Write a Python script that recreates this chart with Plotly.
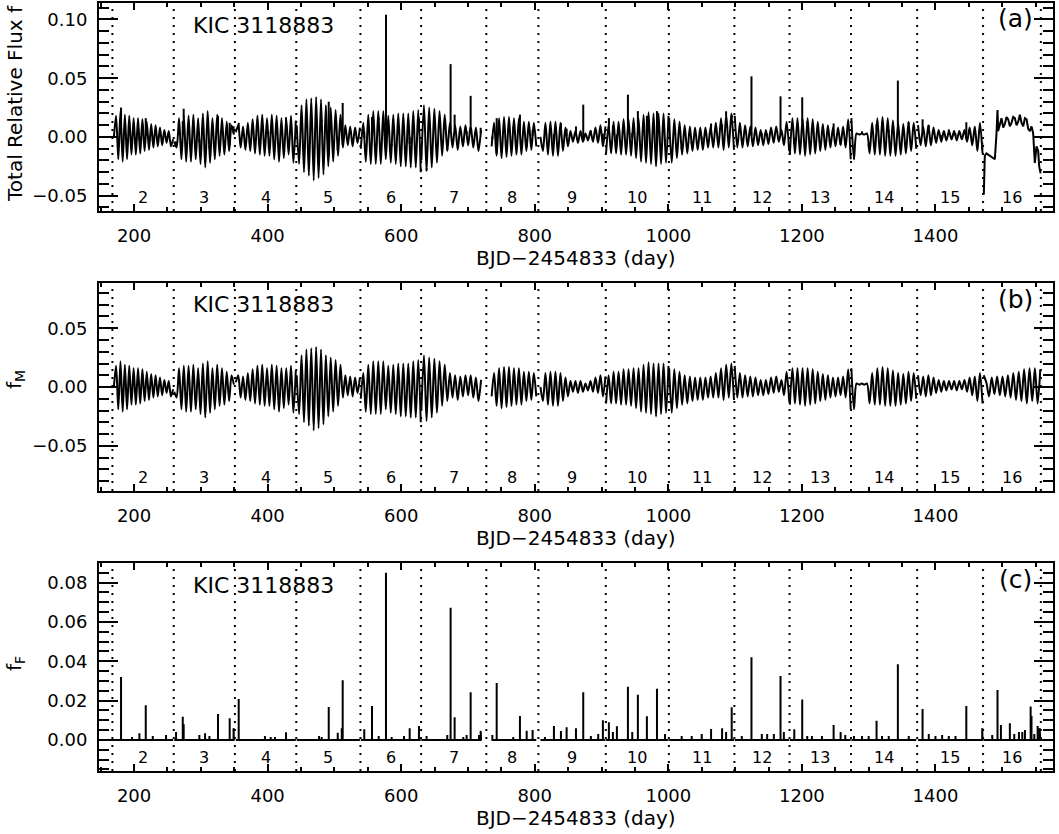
import numpy as np
import plotly.graph_objects as go

# ---------------- data (BJD-2454833, days) ----------------
quarter_names = [str(q) for q in range(2, 17)]
q_start = [169.8, 260.2, 352.4, 443.5, 539.5, 630.2, 735.4, 808.5, 906.8,
           1001.2, 1099.4, 1182.0, 1274.1, 1373.9, 1472.1]
q_end = [258.5, 349.5, 442.2, 538.2, 629.3, 719.6, 802.3, 905.9, 1000.3,
         1098.3, 1181.0, 1273.1, 1371.3, 1470.5, 1557.0]
q_boundary = [167.6, 259.4, 351.0, 442.9, 539.0, 629.8, 727.5, 805.4, 906.4,
              1000.8, 1098.9, 1181.5, 1273.6, 1372.6, 1471.3, 1557.8]

# modulation f_M: successive extrema read per quarter
fm_q2 = [0.000, 0.018, -0.019, 0.022, -0.021, 0.019, -0.019, 0.018, -0.015, 0.016, -0.015, 0.016, -0.014,
         0.015, -0.012, 0.013, -0.011, 0.011, -0.009, 0.010, -0.008, 0.008, -0.007, 0.006, -0.005, 0.005, -0.008, -0.002]
fm_q3 = [-0.004, -0.009, 0.016, -0.019, 0.018, -0.021, 0.018, -0.021, 0.019, -0.019, 0.016, -0.023, 0.020,
         -0.026, 0.022, -0.022, 0.016, -0.019, 0.019, -0.016, 0.016, -0.015, 0.013, -0.012, 0.010, 0.002]
fm_q4 = [0.004, 0.010, -0.009, 0.009, -0.011, 0.012, -0.012, 0.015, -0.014, 0.018, -0.015, 0.019, -0.016,
         0.016, -0.016, 0.019, -0.019, 0.018, -0.021, 0.016, -0.018, 0.016, -0.015, 0.018, -0.022, 0.014]
fm_q5 = [0.010, -0.023, 0.027, -0.030, 0.032, -0.033, 0.033, -0.037, 0.034, -0.035, 0.032, -0.032, 0.027,
         -0.025, 0.025, -0.021, 0.023, -0.016, 0.019, -0.009, 0.010, -0.007, 0.009, -0.008, 0.008, -0.005, 0.008]
fm_q6 = [-0.010, 0.012, -0.021, 0.019, -0.023, 0.022, -0.023, 0.022, -0.023, 0.022, -0.019, 0.018, -0.022,
         0.019, -0.023, 0.020, -0.025, 0.020, -0.025, 0.020, -0.026, 0.022, -0.026, 0.023, -0.030]
fm_q7 = [-0.020, 0.027, -0.029, 0.025, -0.026, 0.024, -0.022, 0.022, -0.016, 0.019, -0.012, 0.012, -0.009,
         0.010, -0.011, 0.009, -0.008, 0.010, -0.007, 0.010, -0.009, 0.008, -0.012, 0.006]
fm_q8 = [-0.008, 0.012, -0.016, 0.016, -0.018, 0.017, -0.017, 0.017, -0.016, 0.016, -0.015, 0.016, -0.015,
         0.013, -0.012, 0.013, -0.011, 0.012, -0.008]
fm_q9 = [0.000, -0.012, 0.012, -0.015, 0.013, -0.016, 0.013, -0.016, 0.012, -0.012, 0.008, -0.008, 0.005,
         -0.004, 0.005, -0.005, 0.005, -0.004, 0.003, -0.003, 0.005, -0.004, 0.008, -0.005, 0.010, -0.008, 0.009]
fm_q10 = [-0.014, 0.010, -0.014, 0.013, -0.014, 0.013, -0.015, 0.015, -0.015, 0.015, -0.016, 0.016, -0.018,
          0.016, -0.021, 0.019, -0.022, 0.021, -0.023, 0.020, -0.025, 0.020, -0.023, 0.020, -0.022, 0.018]
fm_q11 = [0.016, -0.022, 0.015, -0.018, 0.013, -0.015, 0.010, -0.014, 0.009, -0.012, 0.008, -0.011, 0.008,
          -0.011, 0.008, -0.009, 0.009, -0.009, 0.012, -0.009, 0.016, -0.011, 0.019, -0.009, 0.020, -0.011]
fm_q12 = [0.018, -0.009, 0.012, -0.009, 0.010, -0.008, 0.009, -0.008, 0.008, -0.007, 0.006, -0.007, 0.006,
          -0.006, 0.008, -0.005, 0.009, -0.004, 0.006, -0.007, 0.013, -0.012]
fm_q13 = [-0.015, 0.016, -0.014, 0.016, -0.015, 0.016, -0.016, 0.016, -0.015, 0.015, -0.014, 0.013, -0.012,
          0.011, -0.011, 0.010, -0.009, 0.008, -0.008, 0.008, -0.007, 0.009, -0.009, 0.015, -0.019]
fm_q14 = [0.016, -0.019, 0.003, 0.002, 0.003, 0.002, 0.003, -0.014, 0.012, -0.015, 0.016, -0.015, 0.017,
          -0.016, 0.016, -0.016, 0.014, -0.016, 0.012, -0.015, 0.011, -0.014, 0.013, -0.012, 0.012, -0.010]
fm_q15 = [0.010, -0.007, 0.009, -0.008, 0.010, -0.007, 0.008, -0.005, 0.006, -0.004, 0.005, -0.003, 0.005,
          -0.002, 0.005, -0.003, 0.005, -0.002, 0.006, -0.004, 0.008, -0.007, 0.009, -0.012, 0.012, -0.014]
fm_q16 = [0.010, 0.004, -0.008, 0.008, -0.006, 0.009, -0.007, 0.009, -0.008, 0.010, -0.009, 0.012, -0.011,
          0.013, -0.012, 0.015, -0.014, 0.016, -0.012, 0.016, -0.014, 0.015]
fm_quarters = [fm_q2, fm_q3, fm_q4, fm_q5, fm_q6, fm_q7, fm_q8, fm_q9, fm_q10,
               fm_q11, fm_q12, fm_q13, fm_q14, fm_q15, fm_q16]

# flares f_F: day and amplitude
flare_day = [180.5, 197.0, 208.0, 217.5, 228.0, 247.9, 262.9, 272.9, 274.3, 297.8, 306.3, 312.8, 325.7,
             343.2, 349.0, 356.7, 396.0, 404.6, 411.0, 427.5, 477.0, 481.0, 491.5, 505.0, 511.0, 512.4,
             544.7, 556.3, 566.3, 577.2, 585.7, 604.2, 612.7, 626.6, 638.0, 669.0, 674.0, 680.0, 693.0,
             698.0, 704.0, 716.5, 719.0, 736.5, 743.0, 767.8, 777.8, 787.9, 796.8, 815.3, 828.7, 839.2,
             847.7, 861.7, 872.6, 884.0, 895.0, 902.0, 911.0, 917.0, 923.0, 939.5, 946.0, 954.4, 967.9,
             983.0, 995.0, 1020.0, 1035.0, 1050.0, 1064.0, 1080.5, 1086.5, 1094.9, 1110.0, 1124.5, 1140.0,
             1148.0, 1158.0, 1168.0, 1173.0, 1188.6, 1200.5, 1208.0, 1215.0, 1230.0, 1247.5, 1258.0, 1265.0,
             1278.0, 1290.0, 1300.0, 1311.8, 1320.0, 1330.0, 1343.7, 1360.0, 1380.7, 1390.0, 1400.0, 1410.0,
             1420.0, 1430.0, 1446.2, 1470.0, 1485.0, 1492.9, 1498.0, 1511.4, 1518.0, 1525.0, 1530.0, 1534.0,
             1542.5, 1543.8, 1548.0, 1553.0, 1556.0]
flare_amp = [0.032, 0.0015, 0.0034, 0.0177, 0.002, 0.0025, 0.004, 0.0118, 0.008, 0.0025, 0.0034, 0.002, 0.0132,
             0.011, 0.006, 0.0208, 0.002, 0.0015, 0.0015, 0.0039, 0.002, 0.0015, 0.0167, 0.0037, 0.006, 0.0304,
             0.0054, 0.0172, 0.002, 0.085, 0.0015, 0.002, 0.006, 0.0071, 0.002, 0.0025, 0.0673, 0.0115, 0.0015,
             0.0025, 0.0242, 0.0025, 0.0046, 0.0025, 0.029, 0.0015, 0.0122, 0.0047, 0.005, 0.0015, 0.0071, 0.0046,
             0.0064, 0.006, 0.0242, 0.002, 0.003, 0.010, 0.009, 0.004, 0.007, 0.027, 0.004, 0.023, 0.012,
             0.026, 0.003, 0.002, 0.002, 0.003, 0.0055, 0.006, 0.004, 0.0166, 0.002, 0.042, 0.003,
             0.003, 0.003, 0.0325, 0.004, 0.0054, 0.0206, 0.002, 0.002, 0.002, 0.0076, 0.004, 0.0025,
             0.002, 0.002, 0.002, 0.0098, 0.002, 0.002, 0.0385, 0.002, 0.0157, 0.003, 0.002, 0.0025,
             0.002, 0.002, 0.0172, 0.006, 0.0025, 0.0254, 0.0076, 0.0085, 0.003, 0.004, 0.004, 0.005,
             0.017, 0.0122, 0.003, 0.0071, 0.006]
assert len(flare_day) == len(flare_amp)

# total flux f: peak values of the main flares as seen in panel (a)
a_top_day = [180.5, 217.5, 325.7, 343.2, 356.7, 491.5, 512.4, 556.3, 577.2, 674.0, 680.0, 704.0, 743.0,
             777.8, 872.6, 939.5, 954.4, 967.9, 983.0, 1094.9, 1124.5, 1168.0, 1200.5, 1311.8, 1343.7,
             1380.7, 1446.2]
a_top_val = [0.025, 0.016, 0.018, 0.012, 0.012, 0.030, 0.029, 0.017, 0.104, 0.062, 0.019, 0.035, 0.016,
             0.019, 0.0275, 0.036, 0.022, 0.018, 0.022, 0.019, 0.0516, 0.0346, 0.0337, 0.011, 0.048,
             0.015, 0.0125]
# total flux f in quarter 16 (with instrumental trend) and an extra dip
a_q16_day = [1472.4, 1473.9, 1476.4, 1481.4, 1486.4, 1488.9, 1491.4, 1492.9, 1493.9, 1496.4, 1498.9,
             1501.4, 1503.9, 1506.4, 1508.9, 1511.4, 1513.9, 1516.4, 1518.9, 1521.4, 1523.9, 1526.4, 1528.9,
             1531.4, 1533.9, 1536.4, 1538.9, 1541.3, 1543.9, 1546.3, 1548.8, 1551.3, 1553.8, 1555.3, 1557.4]
a_q16_val = [-0.049, -0.016, -0.014, -0.016, -0.018, -0.019, 0.003, 0.023, 0.005, 0.012, 0.016,
             0.008, 0.011, 0.017, 0.015, 0.009, 0.012, 0.017, 0.016, 0.010, 0.013, 0.019, 0.012,
             0.009, 0.016, 0.015, 0.007, 0.005, 0.009, 0.003, -0.022, -0.008, -0.012, -0.025, -0.031]
a_dip_day = [626.0]
a_dip_amp = [-0.013]

# ---------------- build traces ----------------
def quarter_times(i):
    return np.linspace(q_start[i], q_end[i], len(fm_quarters[i]))

top_map = dict(zip(a_top_day, a_top_val))
nq = len(fm_quarters)
xa, ya = [], []          # modulation part of panel (a), quarters 2-15
xs_a, ys_a = [], []      # flare spikes of panel (a)
xb, yb, xc, yc = [], [], [], []
for i in range(nq):
    t = quarter_times(i)
    v = np.array(fm_quarters[i])
    xb += list(t) + [None]
    yb += list(v) + [None]
    fl = sorted([(d, a) for d, a in zip(flare_day, flare_amp) if q_start[i] <= d <= q_end[i]])
    xs, ys = [q_start[i]], [0.0]
    for d, a in fl:
        xs += [d, d, d]
        ys += [0.0, a, 0.0]
    xs.append(q_end[i]); ys.append(0.0)
    xc += xs + [None]; yc += ys + [None]
    if i == nq - 1:
        continue
    xa += list(t) + [None]
    ya += list(v) + [None]
    evs = fl + [(d, a) for d, a in zip(a_dip_day, a_dip_amp) if q_start[i] <= d <= q_end[i]]
    for d, a in evs:
        base = float(np.interp(d, t, v))
        top = top_map.get(d, base + a)
        xs_a += [d, d, None]
        ys_a += [base, top, None]

fig = go.Figure()
line = dict(color="black", width=2)
common = dict(mode="lines", showlegend=False, hoverinfo="skip")
fig.add_trace(go.Scatter(x=xa, y=ya, line=dict(color="black", width=2, shape="spline", smoothing=0.8),
                         xaxis="x", yaxis="y", **common))
fig.add_trace(go.Scatter(x=xs_a, y=ys_a, line=line, xaxis="x", yaxis="y", **common))
fig.add_trace(go.Scatter(x=a_q16_day, y=a_q16_val, line=line, xaxis="x", yaxis="y", **common))
fig.add_trace(go.Scatter(x=xb, y=yb, line=dict(color="black", width=2, shape="spline", smoothing=0.8),
                         xaxis="x2", yaxis="y2", **common))
fig.add_trace(go.Scatter(x=xc, y=yc, line=line, xaxis="x3", yaxis="y3", **common))

W, H = 1059, 834
FONT = "DejaVu Sans"
xdom = [99 / W, 1053 / W]
panels = [(3, 211), (283, 491), (563, 771)]   # (top px, bottom px)
yranges = [[-0.063, 0.114], [-0.0885, 0.0885], [-0.0158, 0.090]]
yticks = [[-0.05, 0.0, 0.05, 0.10], [-0.05, 0.0, 0.05], [0.0, 0.02, 0.04, 0.06, 0.08]]
yminor = [0.01, 0.01, 0.005]

layout = dict(width=W, height=H, margin=dict(l=0, r=0, t=0, b=0),
              paper_bgcolor="white", plot_bgcolor="white", showlegend=False)
for k in range(3):
    top, bot = panels[k]
    sx = "" if k == 0 else str(k + 1)
    layout["xaxis" + sx] = dict(
        domain=xdom, range=[147.5, 1576], anchor="y" + sx,
        tickvals=[200, 400, 600, 800, 1000, 1200, 1400], ticks="inside", ticklen=7, tickwidth=2,
        tickcolor="black", minor=dict(ticks="inside", ticklen=4, tickwidth=2, dtick=50, tick0=0, tickcolor="black"),
        showline=True, linewidth=2, linecolor="black", mirror="allticks", showgrid=False, zeroline=False,
        tickfont=dict(family=FONT, size=18, color="black"), ticklabelstandoff=7)
    layout["yaxis" + sx] = dict(
        domain=[1 - bot / H, 1 - top / H], range=yranges[k], anchor="x" + sx,
        tickvals=yticks[k], tickformat=".2f", ticks="inside", ticklen=19, tickwidth=2, tickcolor="black",
        minor=dict(ticks="inside", ticklen=10, tickwidth=2, dtick=yminor[k], tick0=0, tickcolor="black"),
        showline=True, linewidth=2, linecolor="black", mirror="allticks", showgrid=False, zeroline=False,
        tickfont=dict(family=FONT, size=18, color="black"), ticklabelstandoff=6)

shapes = []
annotations = []
tags = ["(a)", "(b)", "(c)"]
for k in range(3):
    sx = "" if k == 0 else str(k + 1)
    top, bot = panels[k]
    for b in q_boundary:
        shapes.append(dict(type="line", xref="x" + sx, yref="y" + sx + " domain", x0=b, x1=b, y0=0, y1=1,
                           line=dict(color="black", width=2, dash="2px,6px")))
    for q in range(nq):
        mid = 0.5 * (q_boundary[q] + q_boundary[q + 1])
        annotations.append(dict(x=mid, y=0.065, xref="x" + sx, yref="y" + sx + " domain", text=quarter_names[q],
                                showarrow=False, xanchor="center", yanchor="middle",
                                font=dict(family=FONT, size=16, color="black")))
    annotations.append(dict(x=263 / W, y=1 - (top + 22) / H, xref="paper", yref="paper", text="KIC 3118883",
                            showarrow=False, xanchor="center", yanchor="middle",
                            font=dict(family=FONT, size=22, color="black")))
    annotations.append(dict(x=1015 / W, y=1 - (top + 16) / H, xref="paper", yref="paper", text=tags[k],
                            showarrow=False, xanchor="center", yanchor="middle",
                            font=dict(family=FONT, size=25, color="black")))
    annotations.append(dict(x=576 / W, y=1 - (bot + 47) / H, xref="paper", yref="paper", text="BJD\u22122454833 (day)",
                            showarrow=False, xanchor="center", yanchor="middle",
                            font=dict(family=FONT, size=20, color="black")))

ytitles = [("Total Relative Flux f", 104), ("f<sub>M</sub>", 380), ("f<sub>F</sub>", 664)]
for txt, yc_ in ytitles:
    annotations.append(dict(x=15 / W, y=1 - yc_ / H, xref="paper", yref="paper", text=txt, textangle=-90,
                            showarrow=False, xanchor="center", yanchor="middle",
                            font=dict(family=FONT, size=20, color="black")))

layout["shapes"] = shapes
layout["annotations"] = annotations
fig.update_layout(**layout)
fig.write_html("out.html")
